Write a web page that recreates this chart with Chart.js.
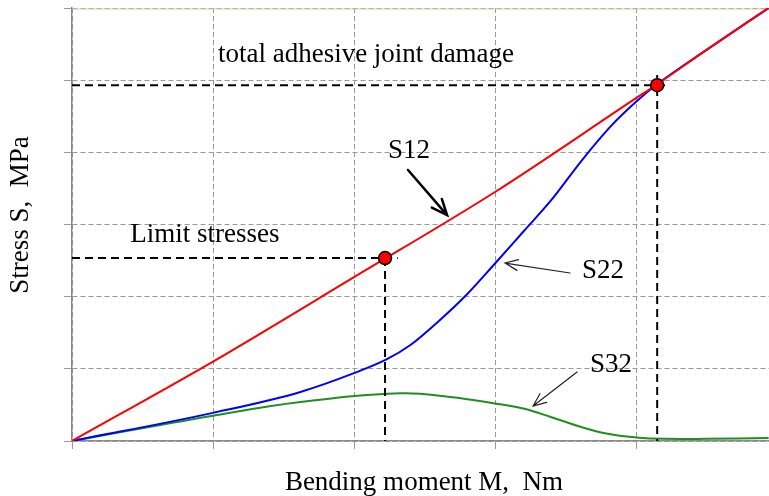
<!DOCTYPE html>
<html>
<head>
<meta charset="utf-8">
<script src="https://cdn.jsdelivr.net/npm/chart.js@4"></script>
<style>
  body { margin: 0; background: #fff; }
  canvas { display: block; }
</style>
</head>
<body>
<canvas id="stressChart" width="769" height="496"></canvas>
<script>
// values (grid units, no tick labels in the original)
const momentS12 = [0, 1, 2, 3, 4, 4.14, 4.5, 4.94];
const stressS12 = [0, 1.1, 2.27, 3.45, 4.75, 4.93, 5.42, 6.0];

const momentS22 = [0, 1, 1.62, 2, 2.23, 2.4, 2.6, 2.8, 3, 3.2, 3.4, 3.62, 3.82, 4, 4.14, 4.5, 4.94];
const stressS22 = [0, 0.39, 0.68, 0.94, 1.13, 1.33, 1.66, 2.03, 2.46, 2.9, 3.34, 3.9, 4.36, 4.7, 4.93, 5.42, 6.0];

const momentS32 = [0, 1, 1.62, 2.33, 2.68, 3, 3.2, 3.4, 3.6, 3.8, 4, 4.2, 4.5, 4.94];
const stressS32 = [0, 0.35, 0.54, 0.66, 0.61, 0.52, 0.45, 0.33, 0.2, 0.1, 0.05, 0.03, 0.03, 0.04];

// limit stresses / total damage points
const limitMoment = [2.22, 4.15];
const limitStress = [2.535, 4.93];

const xTicks = [0, 1, 2, 3, 4];
const yTicks = [0, 1, 2, 3, 4, 5, 6];
const xMax = 4.943;
const yMax = 6;

const zip = (xs, ys) => xs.map((x, i) => ({ x: x, y: ys[i] }));

const SERIF = '"Liberation Serif", "Times New Roman", serif';

// dashed guide lines from the two marked points to the axes
const guideH1 = [{ x: 0, y: limitStress[0] }, { x: limitMoment[0] + 0.09, y: limitStress[0] }];
const guideV1 = [{ x: limitMoment[0], y: limitStress[0] }, { x: limitMoment[0], y: 0 }];
const guideH2 = [{ x: 0, y: limitStress[1] }, { x: limitMoment[1] + 0.09, y: limitStress[1] }];
const guideV2 = [{ x: limitMoment[1], y: limitStress[1] + 0.14 }, { x: limitMoment[1], y: 0 }];

const guideStyle = {
    borderColor: '#000',
    borderWidth: 2,
    borderDash: [8, 5],
    pointRadius: 0,
    fill: false,
    order: 2
};

// text and arrows drawn on top
const notesPlugin = {
    id: 'notes',
    beforeDatasetsDraw(chart) {
        const { ctx, chartArea } = chart;
        ctx.save();
        ctx.strokeStyle = '#d8c99e';
        ctx.lineWidth = 1;
        ctx.beginPath();
        ctx.moveTo(chartArea.left, chartArea.top + 1);
        ctx.lineTo(chartArea.right, chartArea.top + 1);
        ctx.stroke();
        ctx.restore();
    },
    afterDatasetsDraw(chart) {
        const { ctx } = chart;
        const xs = chart.scales.x, ys = chart.scales.y;
        const px = v => xs.getPixelForValue(v);
        const py = v => ys.getPixelForValue(v);

        const text = (str, x, y) => {
            ctx.fillText(str, px(x), py(y));
        };
        const arrow = (x1, y1, x2, y2, width, color, head) => {
            const ax = px(x1), ay = py(y1), bx = px(x2), by = py(y2);
            const ang = Math.atan2(by - ay, bx - ax);
            ctx.save();
            ctx.strokeStyle = color;
            ctx.lineWidth = width;
            ctx.lineCap = 'round';
            ctx.beginPath();
            ctx.moveTo(ax, ay);
            ctx.lineTo(bx, by);
            ctx.moveTo(bx - head * Math.cos(ang - 0.4), by - head * Math.sin(ang - 0.4));
            ctx.lineTo(bx, by);
            ctx.lineTo(bx - head * Math.cos(ang + 0.4), by - head * Math.sin(ang + 0.4));
            ctx.stroke();
            ctx.restore();
        };

        ctx.save();
        ctx.fillStyle = '#000';
        ctx.font = '27px ' + SERIF;
        ctx.textAlign = 'center';
        ctx.textBaseline = 'alphabetic';
        text('total adhesive joint damage', 2.085, 5.25);
        text('S12', 2.39, 3.92);
        text('Limit stresses', 0.943, 2.757);
        text('S22', 3.766, 2.258);
        text('S32', 3.823, 0.956);

        // axis titles
        ctx.fillText('Bending moment M,  Nm', 424, 490);
        ctx.translate(28, 215);
        ctx.rotate(-Math.PI / 2);
        ctx.fillText('Stress S,  MPa', 0, 0);
        ctx.restore();

        arrow(2.383, 3.755, 2.66, 3.13, 2.5, '#000', 17);
        arrow(3.532, 2.328, 3.071, 2.466, 1.2, '#222', 14);
        arrow(3.582, 0.956, 3.27, 0.485, 1.2, '#222', 14);
    }
};

new Chart(document.getElementById('stressChart'), {
    type: 'line',
    data: {
        datasets: [
            { label: 'S12', data: zip(momentS12, stressS12), borderColor: '#ff0000', borderWidth: 2, pointRadius: 0, cubicInterpolationMode: 'monotone', order: 3 },
            { label: 'S22', data: zip(momentS22, stressS22), borderColor: '#0000ff', borderWidth: 2, pointRadius: 0, cubicInterpolationMode: 'monotone', order: 3 },
            { label: 'S32', data: zip(momentS32, stressS32), borderColor: '#1f8f1f', borderWidth: 2, pointRadius: 0, tension: 0.4, order: 3 },
            Object.assign({ data: guideH1 }, guideStyle),
            Object.assign({ data: guideV1 }, guideStyle),
            Object.assign({ data: guideH2 }, guideStyle),
            Object.assign({ data: guideV2 }, guideStyle),
            {
                label: 'limits',
                data: zip(limitMoment, limitStress),
                showLine: false,
                pointRadius: 6.5,
                pointBackgroundColor: '#ff0000',
                pointBorderColor: '#000',
                pointBorderWidth: 1.5,
                order: 1
            }
        ]
    },
    options: {
        responsive: false,
        animation: false,
        layout: { autoPadding: false, padding: { left: 64, right: 0, top: 8, bottom: 47 } },
        plugins: {
            legend: { display: false },
            tooltip: { enabled: false }
        },
        scales: {
            x: {
                type: 'linear',
                min: 0,
                max: xMax,
                afterBuildTicks: s => { s.ticks = xTicks.map(v => ({ value: v })); },
                ticks: { display: false },
                grid: { color: '#9a9a9a', lineWidth: 1, tickLength: 8 },
                border: { color: '#8a8a8a', width: 1.5, dash: [5, 3] }
            },
            y: {
                min: 0,
                max: yMax,
                afterBuildTicks: s => { s.ticks = yTicks.map(v => ({ value: v })); },
                ticks: { display: false },
                grid: { color: '#9a9a9a', lineWidth: 1, tickLength: 8 },
                border: { color: '#8a8a8a', width: 1.5, dash: [5, 3] }
            }
        }
    },
    plugins: [notesPlugin]
});
</script>
</body>
</html>
